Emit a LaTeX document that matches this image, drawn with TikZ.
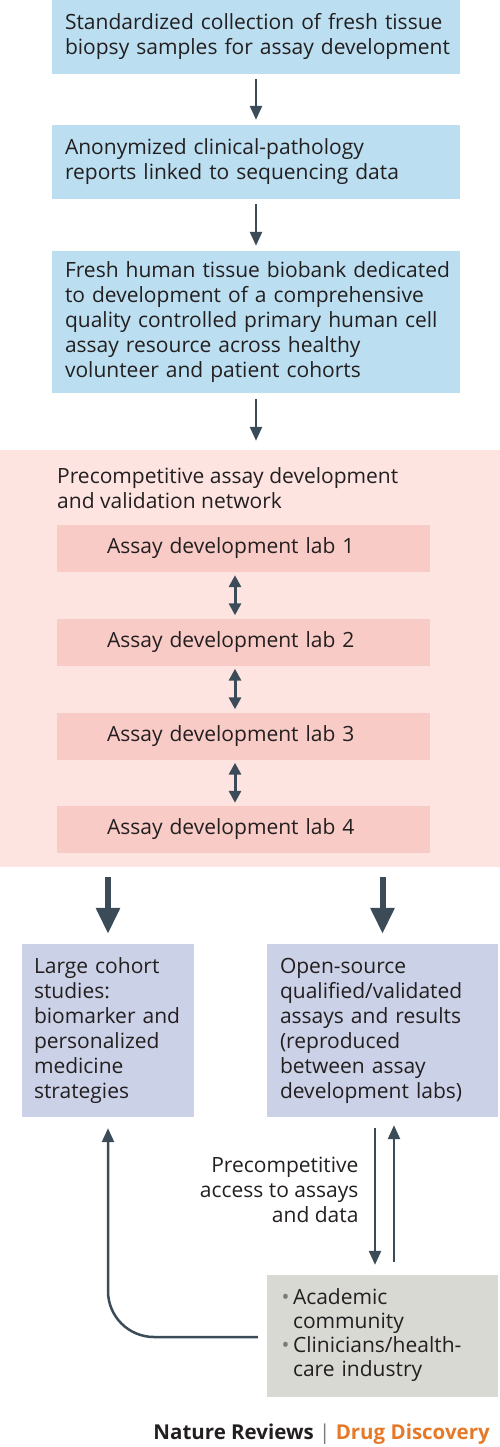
\documentclass[tikz,border=0pt]{standalone}
\usepackage{fontspec}
\setmainfont{Open Sans}
\usetikzlibrary{arrows.meta,positioning}
\definecolor{boxblue}{HTML}{BBDFF1}
\definecolor{panelpink}{HTML}{FDE4E1}
\definecolor{labpink}{HTML}{F9CBC6}
\definecolor{boxlav}{HTML}{CBD1E6}
\definecolor{boxgrey}{HTML}{D9D9D3}
\definecolor{arrowslate}{HTML}{3B4C58}
\definecolor{inkdark}{HTML}{231F20}
\definecolor{dotgrey}{HTML}{7A7A7A}
\definecolor{nrorange}{HTML}{E5792A}
\newcommand{\textlines}[1]{\begin{tabular}{@{}l@{}}#1\end{tabular}}
\newcommand{\dotitem}{\llap{\textcolor{dotgrey}{\textbullet}\,}}
\tikzset{
  bluebox/.style={fill=boxblue, minimum width=408, text width=382, inner xsep=13, inner ysep=0},
  labbox/.style={fill=labpink, minimum width=373, minimum height=47, text width=273, inner xsep=50, inner ysep=0},
  lavbox/.style={fill=boxlav, minimum height=173, inner ysep=0},
  greybox/.style={fill=boxgrey, minimum width=231, minimum height=122, text width=179, inner xsep=26, inner ysep=0},
  thinarrow/.style={draw=arrowslate, line width=2.5, -{Triangle[width=12,length=14]}},
  duplex/.style={draw=arrowslate, line width=3, {Triangle[width=12,length=12]}-{Triangle[width=12,length=12]}, shorten <=3, shorten >=3},
  bigarrow/.style={draw=arrowslate, line width=6, -{Triangle[width=23,length=26]}, shorten <=10, shorten >=10}
}
\begin{document}
\begin{tikzpicture}[x=1pt, y=-1pt, font=\fontsize{21}{25}\selectfont, text=inkdark]
\useasboundingbox (0,0) rectangle (500,1447);
\node[bluebox, minimum height=74] (collect) at (256,37) {\textlines{Standardized collection of fresh tissue\\biopsy samples for assay development}};
\node[bluebox, minimum height=74] (reports) at (256,162) {\textlines{Anonymized clinical-pathology\\reports linked to sequencing data}};
\node[bluebox, minimum height=142] (biobank) at (256,322) {\textlines{Fresh human tissue biobank dedicated\\to development of a comprehensive\\quality controlled primary human cell\\assay resource across healthy\\volunteer and patient cohorts}};
\draw[thinarrow, shorten <=5, shorten >=5] (collect) -- (reports);
\draw[thinarrow, shorten <=5, shorten >=5] (reports) -- (biobank);
\node[fill=panelpink, minimum width=500, minimum height=417, inner sep=0] (network) at (250,658.5) {};
\draw[thinarrow, shorten <=6, shorten >=9] (biobank) -- (network.north -| biobank.south);
\node[anchor=north west, align=left, inner sep=0] (nettitle) at (57,467) {Precompetitive assay development\\and validation network};
\foreach \i/\y in {1/548.5,2/642,3/736,4/829.5}
  \node[labbox] (lab\i) at (243.5,\y) {Assay development lab \i};
\foreach \a/\b in {1/2,2/3,3/4}
  \draw[duplex] ([xshift=-8.5]lab\a.south) -- ([xshift=-8.5]lab\b.north);
\node[lavbox, minimum width=172, text width=148, inner xsep=12] (cohort) at (108,1030.5) {\textlines{Large cohort\\studies:\\biomarker and\\personalized\\medicine\\strategies}};
\node[lavbox, minimum width=231, text width=205, inner xsep=13] (opensrc) at (382.5,1030.5) {\textlines{Open-source\\qualified/validated\\assays and results\\(reproduced\\between assay\\development labs)}};
\draw[bigarrow] (cohort.north |- network.south) -- (cohort.north);
\draw[bigarrow] (opensrc.north |- network.south) -- (opensrc.north);
\node[greybox, font=\fontsize{21}{24}\selectfont] (users) at (382.5,1336) {\textlines{\dotitem Academic\\community\\\dotitem Clinicians/health-\\care industry}};
\node[align=right, anchor=east] (access) at (362,1190) {Precompetitive\\access to assays\\and data};
\draw[thinarrow, shorten <=11, shorten >=10] ([xshift=-7.5]opensrc.south) -- ([xshift=-7.5]users.north);
\draw[thinarrow, shorten <=13, shorten >=8] ([xshift=11.5]users.north) -- ([xshift=11.5]opensrc.south);
\draw[thinarrow, rounded corners=46, shorten <=9, shorten >=11] ([yshift=-1]users.west) -| (cohort.south);
\node[anchor=base east, inner sep=0, font=\fontsize{20.5}{22}\selectfont\bfseries] (credit) at (490,1439) {Nature Reviews {\color{dotgrey}\mdseries|} \textcolor{nrorange}{Drug Discovery}};
\end{tikzpicture}
\end{document}
